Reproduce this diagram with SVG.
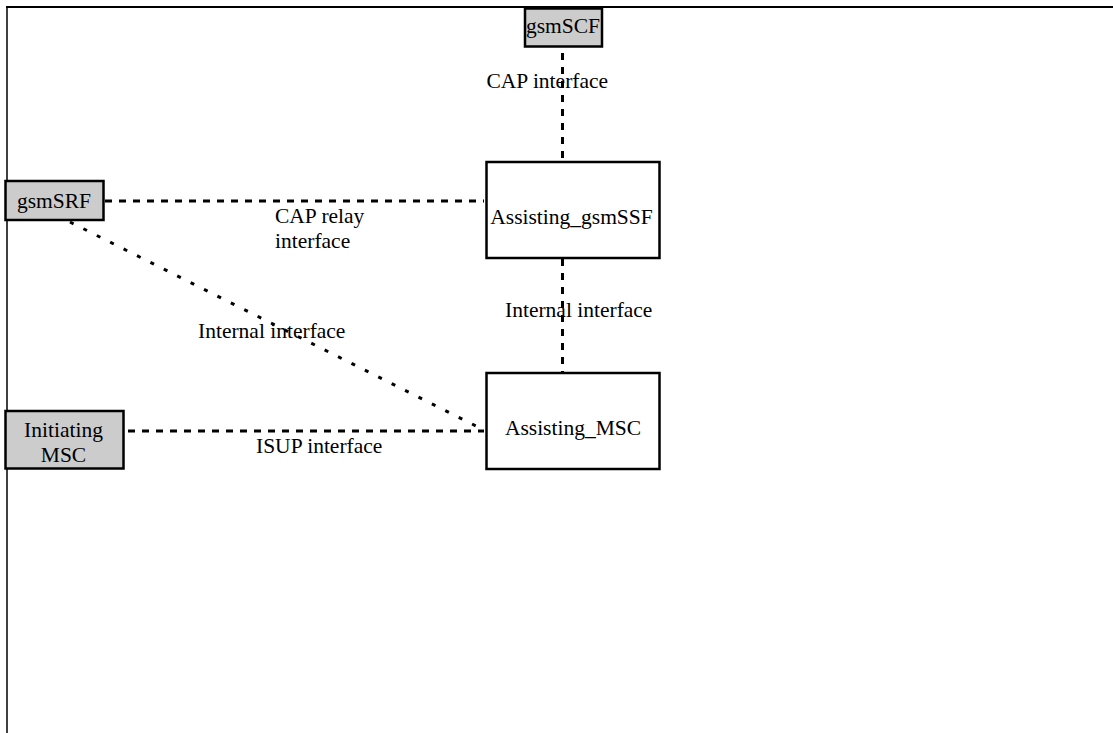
<svg xmlns="http://www.w3.org/2000/svg" width="1113" height="733" viewBox="0 0 1113 733">
<style>
.t{font-family:"Liberation Serif","Times New Roman",serif;font-size:21.5px;fill:#000}
.c{text-anchor:middle}
.box{stroke:#000;stroke-width:2.5}
.g{fill:#cccccc}
.w{fill:#ffffff}
.dh{stroke:#000;stroke-width:3;stroke-dasharray:7 7;fill:none}
.dd{stroke:#000;stroke-width:3;stroke-dasharray:4 11;fill:none}
</style>
<rect x="0" y="0" width="1113" height="733" fill="#ffffff"/>
<g id="frame">
<line x1="6" y1="7" x2="1113" y2="7" stroke="#000" stroke-width="2"/>
<line x1="7" y1="6" x2="7" y2="733" stroke="#000" stroke-width="1.5"/>
</g>
<g id="connectors">
<line class="dh" x1="562.5" y1="53" x2="562.5" y2="160"/>
<line class="dh" x1="105" y1="201" x2="484" y2="201"/>
<line class="dh" x1="562.5" y1="259" x2="562.5" y2="372"/>
<line class="dd" x1="70" y1="222" x2="484" y2="430"/>
<line class="dh" x1="128" y1="431" x2="484" y2="431"/>
</g>
<g id="labels">
<text class="t" x="486.5" y="88">CAP interface</text>
<text class="t" x="275" y="223">CAP relay</text>
<text class="t" x="275" y="248">interface</text>
<text class="t" x="198" y="338">Internal interface</text>
<text class="t" x="505" y="316.5">Internal interface</text>
<text class="t" x="256" y="453">ISUP interface</text>
</g>
<g id="gsmSCF">
<rect class="box g" x="525" y="8.5" width="77" height="38"/>
<text class="t c" x="563" y="33">gsmSCF</text>
</g>
<g id="gsmSRF">
<rect class="box g" x="5.5" y="181" width="98" height="39"/>
<text class="t c" x="54" y="208">gsmSRF</text>
</g>
<g id="Assisting_gsmSSF">
<rect class="box w" x="486.5" y="162" width="173" height="96"/>
<text class="t c" x="571.5" y="224">Assisting_gsmSSF</text>
</g>
<g id="Initiating_MSC">
<rect class="box g" x="5.5" y="411" width="118" height="57.5"/>
<text class="t c" x="63.5" y="437">Initiating</text>
<text class="t c" x="63.5" y="462">MSC</text>
</g>
<g id="Assisting_MSC">
<rect class="box w" x="486.5" y="373" width="173" height="96"/>
<text class="t c" x="573" y="435">Assisting_MSC</text>
</g>
</svg>
